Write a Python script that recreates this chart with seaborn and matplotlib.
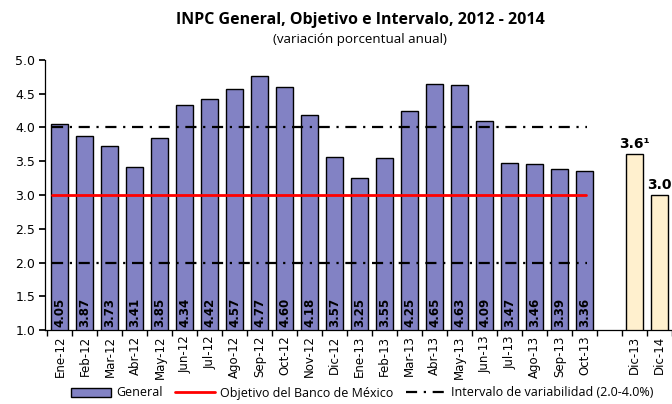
import pandas as pd
import numpy as np
import matplotlib.pyplot as plt
from matplotlib.lines import Line2D
from matplotlib.patches import Patch
import seaborn as sns

# Datos
meses = ['Ene-12', 'Feb-12', 'Mar-12', 'Abr-12', 'May-12', 'Jun-12', 'Jul-12', 'Ago-12',
         'Sep-12', 'Oct-12', 'Nov-12', 'Dic-12', 'Ene-13', 'Feb-13', 'Mar-13', 'Abr-13',
         'May-13', 'Jun-13', 'Jul-13', 'Ago-13', 'Sep-13', 'Oct-13']
inpc = [4.05, 3.87, 3.73, 3.41, 3.85, 4.34, 4.42, 4.57, 4.77, 4.60, 4.18, 3.57,
        3.25, 3.55, 4.25, 4.65, 4.63, 4.09, 3.47, 3.46, 3.39, 3.36]
pron_meses = ['Dic-13', 'Dic-14']
pron = [3.6, 3.0]
pron_labels = ['3.6¹', '3.0']
objetivo = 3.0
intervalo = [2.0, 4.0]

etiquetas = meses + [' '] + pron_meses
df = pd.DataFrame({
    'mes': etiquetas,
    'valor': inpc + [np.nan] + pron,
    'tipo': ['General'] * len(meses) + ['gap'] + ['Pronostico'] * len(pron),
})

sns.set_theme(style='white')
plt.rcParams['font.family'] = ['DejaVu Sans']
plt.rcParams['text.color'] = 'black'
plt.rcParams['xtick.color'] = 'black'
plt.rcParams['ytick.color'] = 'black'

fig = plt.figure(figsize=(6.72, 4.04), dpi=100)
ax = fig.add_axes([45 / 672, 1 - 330 / 404, 1 - 45 / 672, 270 / 404])

sns.barplot(data=df, x='mes', y='valor', hue='tipo', order=etiquetas,
            palette={'General': '#8282C4', 'gap': 'white', 'Pronostico': '#FFF0CE'},
            saturation=1, dodge=False, width=0.68, edgecolor='black', linewidth=1.0,
            legend=False, ax=ax)

n = len(meses)
# lineas de objetivo e intervalo
ax.plot([-0.32, n - 0.95], [objetivo, objetivo], color='#FF0000', lw=2.0, zorder=5)
for lim in intervalo:
    ax.plot([-0.32, n - 0.9], [lim, lim], color='black', lw=1.6,
            linestyle=(0, (5, 3, 1, 3)), zorder=5)

# etiquetas dentro de las barras
for i, v in enumerate(inpc):
    ax.text(i, 1.05, f'{v:.2f}', rotation=90, ha='center', va='bottom',
            fontsize=8.5, fontweight='bold', zorder=6)
for j, (v, lab) in enumerate(zip(pron, pron_labels)):
    ax.text(n + 1 + j, v + 0.05, lab, ha='center', va='bottom',
            fontsize=10, fontweight='bold', zorder=6, clip_on=False)

ax.set_ylim(1.0, 5.0)
ax.set_xlim(-0.6, 24.38)
ax.set_yticks(np.arange(1.0, 5.01, 0.5))
ax.set_yticklabels([f'{t:.1f}' for t in np.arange(1.0, 5.01, 0.5)], fontsize=9)
ax.set_xticks(range(len(etiquetas)))
ax.set_xticklabels(etiquetas, rotation=90, fontsize=8.5)
ax.set_xticks(np.arange(-0.5, len(etiquetas), 1.0), minor=True)
ax.tick_params(axis='x', which='major', length=0, pad=4)
ax.tick_params(axis='x', which='minor', length=4, direction='out', color='black', bottom=True)
ax.tick_params(axis='y', length=4, direction='out', color='black', left=True, pad=3)
ax.set_xlabel('')
ax.set_ylabel('')
for s in ['top', 'right']:
    ax.spines[s].set_visible(False)
for s in ['left', 'bottom']:
    ax.spines[s].set_color('black')
    ax.spines[s].set_linewidth(0.9)

fig.text(360 / 672, 1 - 20 / 404, 'INPC General, Objetivo e Intervalo, 2012 - 2014',
         ha='center', va='center', fontsize=11.5, fontweight='bold', family='Open Sans')
fig.text(360 / 672, 1 - 39 / 404, '(variación porcentual anual)',
         ha='center', va='center', fontsize=9.6, family='Open Sans')

handles = [
    Patch(facecolor='#8282C4', edgecolor='black', linewidth=1.0),
    Line2D([], [], color='#FF0000', lw=2.0),
    Line2D([], [], color='black', lw=1.6, linestyle=(0, (5, 3, 1, 3))),
]
fig.legend(handles, ['General', 'Objetivo del Banco de México', 'Intervalo de variabilidad (2.0-4.0%)'],
           loc='center', bbox_to_anchor=(362 / 672, 1 - 393 / 404), ncol=3, frameon=False,
           handlelength=3.2, handletextpad=0.4, columnspacing=1.0,
           prop={'family': 'Open Sans', 'size': 9})

plt.savefig('out.png', dpi=100)
